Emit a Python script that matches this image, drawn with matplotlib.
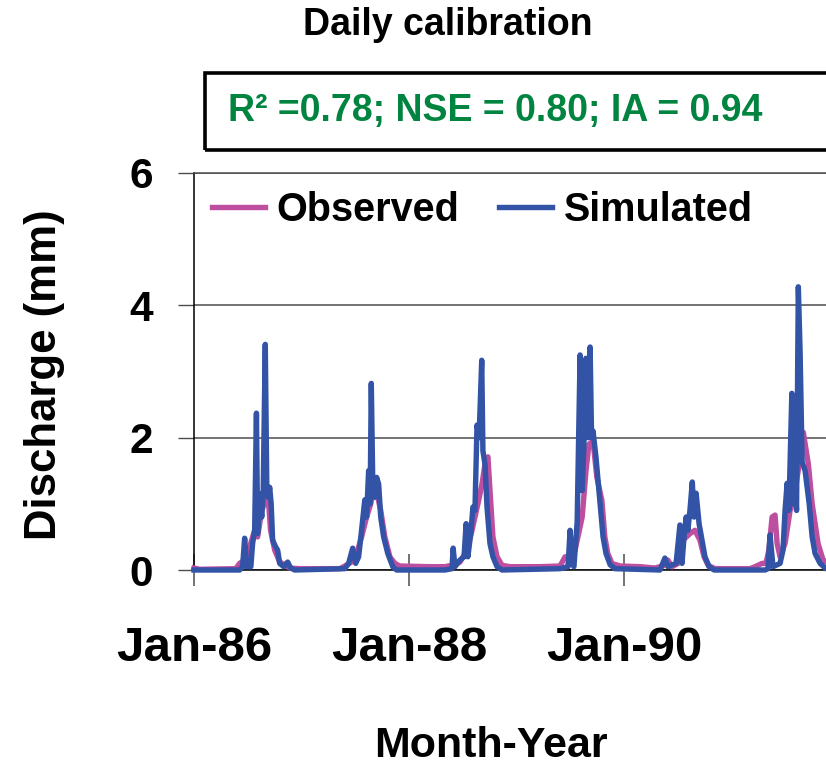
import numpy as np
import matplotlib
matplotlib.use("Agg")
import matplotlib.pyplot as plt
import matplotlib.dates as mdates
from matplotlib import font_manager
from matplotlib.patches import Rectangle

# observed daily discharge (mm)
obs_dates = ["1986-01-01", "1986-01-20", "1986-05-23", "1986-06-05", "1986-06-22", "1986-07-09",
             "1986-07-26", "1986-08-05", "1986-08-19", "1986-09-01", "1986-09-10", "1986-09-18",
             "1986-10-02", "1986-10-19", "1986-11-05", "1986-11-22", "1986-12-26",
             "1987-05-11", "1987-05-28", "1987-07-01", "1987-07-24", "1987-08-10", "1987-08-24",
             "1987-09-07", "1987-09-17", "1987-09-27", "1987-10-11", "1987-10-28", "1987-11-14",
             "1987-12-01", "1988-03-11", "1988-05-02", "1988-06-05", "1988-06-22", "1988-07-16",
             "1988-08-02", "1988-08-22", "1988-09-05", "1988-09-15", "1988-09-25", "1988-10-02",
             "1988-10-12", "1988-10-26", "1988-11-12", "1988-12-09", "1989-03-20", "1989-05-28",
             "1989-06-14", "1989-07-01", "1989-07-18", "1989-08-11", "1989-08-24", "1989-09-03",
             "1989-09-17", "1989-09-30", "1989-10-17", "1989-10-27", "1989-11-06", "1989-11-20",
             "1989-12-18", "1990-02-23", "1990-04-15", "1990-05-12", "1990-05-29", "1990-06-12",
             "1990-07-03", "1990-07-19", "1990-08-12", "1990-08-29", "1990-09-15", "1990-09-29",
             "1990-10-13", "1990-11-05", "1991-03-04", "1991-03-21", "1991-04-14", "1991-04-27",
             "1991-05-07", "1991-05-18", "1991-05-28", "1991-06-04", "1991-06-14", "1991-07-01",
             "1991-07-18", "1991-08-04", "1991-08-18", "1991-09-01", "1991-09-18", "1991-10-01",
             "1991-10-21", "1991-11-07", "1991-12-18"]
obs_vals = [0.03, 0.01, 0.02, 0.10, 0.15, 0.35,
            0.60, 0.50, 0.90, 1.05, 1.10, 0.60,
            0.30, 0.12, 0.08, 0.03, 0.02,
            0.02, 0.06, 0.15, 0.50, 0.80, 1.00,
            1.30, 1.10, 0.90, 0.50, 0.20, 0.10,
            0.06, 0.05, 0.05, 0.08, 0.12, 0.30,
            0.60, 1.00, 1.30, 1.60, 1.71, 1.20,
            0.50, 0.20, 0.07, 0.05, 0.05, 0.06,
            0.20, 0.15, 0.30, 0.80, 1.50, 1.90,
            1.95, 1.40, 1.05, 0.50, 0.25, 0.10,
            0.06, 0.05, 0.03, 0.06, 0.15, 0.05,
            0.10, 0.45, 0.55, 0.60, 0.45, 0.20,
            0.07, 0.02, 0.02, 0.05, 0.10, 0.10,
            0.30, 0.80, 0.83, 0.40, 0.20, 0.40,
            0.90, 1.20, 1.60, 2.08, 1.60, 1.00,
            0.40, 0.15, 0.05]

# simulated daily discharge (mm)
sim_dates = ["1986-01-01", "1986-06-05", "1986-06-15", "1986-06-22", "1986-06-29", "1986-07-13",
             "1986-07-19", "1986-07-26", "1986-08-01", "1986-08-05", "1986-08-12", "1986-08-19",
             "1986-08-24", "1986-08-31", "1986-09-05", "1986-09-10", "1986-09-15", "1986-09-20",
             "1986-09-25", "1986-10-05", "1986-10-12", "1986-10-19", "1986-11-02", "1986-11-15",
             "1986-11-25", "1986-12-09",
             "1987-05-28", "1987-06-10", "1987-06-24", "1987-07-04", "1987-07-14", "1987-07-24",
             "1987-08-04", "1987-08-10", "1987-08-17", "1987-08-22", "1987-08-26", "1987-08-31",
             "1987-09-07", "1987-09-13", "1987-09-20", "1987-09-27", "1987-10-07", "1987-10-21",
             "1987-11-07", "1987-11-20",
             "1988-05-02", "1988-05-26", "1988-05-30", "1988-06-05", "1988-06-22", "1988-07-06",
             "1988-07-13", "1988-07-19", "1988-07-30", "1988-08-05", "1988-08-12", "1988-08-19",
             "1988-08-26", "1988-09-04", "1988-09-08", "1988-09-15", "1988-09-22", "1988-10-02",
             "1988-10-12", "1988-10-26", "1988-11-12",
             "1989-05-28", "1989-06-24", "1989-07-01", "1989-07-08", "1989-07-14", "1989-07-25",
             "1989-08-04", "1989-08-11", "1989-08-17", "1989-08-24", "1989-08-31", "1989-09-07",
             "1989-09-12", "1989-09-17", "1989-09-27", "1989-10-11", "1989-10-21", "1989-10-31",
             "1989-11-14", "1989-12-01",
             "1990-05-02", "1990-05-19", "1990-05-29", "1990-06-26", "1990-07-09", "1990-07-16",
             "1990-07-23", "1990-07-30", "1990-08-05", "1990-08-12", "1990-08-20", "1990-08-26",
             "1990-09-02", "1990-09-12", "1990-09-22", "1990-10-02", "1990-10-16", "1990-11-02",
             "1991-04-24", "1991-05-04", "1991-05-11", "1991-05-21", "1991-06-14", "1991-06-24",
             "1991-07-01", "1991-07-08", "1991-07-14", "1991-07-24", "1991-07-28", "1991-08-04",
             "1991-08-09", "1991-08-15", "1991-08-21", "1991-08-28", "1991-09-07", "1991-09-21",
             "1991-10-01", "1991-10-11", "1991-10-28", "1991-11-17", "1991-12-18"]
sim_vals = [0.0, 0.0, 0.05, 0.48, 0.05, 0.05,
            0.40, 0.60, 2.37, 0.55, 1.15, 0.80,
            1.20, 3.41, 1.30, 1.10, 1.25, 1.00,
            0.45, 0.35, 0.30, 0.10, 0.05, 0.12,
            0.03, 0.0,
            0.02, 0.10, 0.33, 0.10, 0.20, 0.60,
            1.06, 0.80, 1.50, 1.00, 2.82, 1.30,
            1.10, 1.40, 1.30, 0.80, 0.50, 0.25,
            0.05, 0.0,
            0.0, 0.02, 0.33, 0.05, 0.15, 0.20,
            0.70, 0.20, 0.60, 0.95, 0.90, 2.19,
            2.00, 3.17, 1.80, 1.60, 0.95, 0.40,
            0.20, 0.05, 0.0,
            0.02, 0.05, 0.60, 0.10, 0.05, 0.72,
            3.25, 1.20, 1.90, 3.20, 2.00, 3.37,
            2.00, 2.10, 1.70, 1.00, 0.50, 0.25,
            0.08, 0.02,
            0.0, 0.18, 0.05, 0.10, 0.68, 0.10,
            0.50, 0.80, 0.60, 0.90, 1.33, 0.80,
            1.16, 0.70, 0.45, 0.20, 0.05, 0.0,
            0.0, 0.02, 0.53, 0.05, 0.10, 0.30,
            0.90, 1.31, 0.90, 2.67, 1.00, 1.35,
            0.90, 4.28, 3.30, 1.63, 1.50, 1.00,
            0.50, 0.25, 0.10, 0.02, 0.0]

y_ticks = [0, 2, 4, 6]
stats_text = "R\u00b2 =0.78; NSE = 0.80; IA = 0.94"


def has_font(name):
    try:
        font_manager.findfont(font_manager.FontProperties(family=name), fallback_to_default=False)
        return True
    except ValueError:
        return False


base = "Liberation Sans" if has_font("Liberation Sans") else "DejaVu Sans"
narrow = "Liberation Sans Narrow" if has_font("Liberation Sans Narrow") else None

pink = "#BE4FA0"
blue = "#3253A6"
green = "#00843F"

W, H = 826, 766
fig = plt.figure(figsize=(W / 100, H / 100), dpi=100)
ax = fig.add_axes([194 / W, (H - 570) / H, (W - 194) / W, (570 - 173) / H])

obs_t = np.array(obs_dates, dtype="datetime64[D]")
sim_t = np.array(sim_dates, dtype="datetime64[D]")
ax.plot(obs_t, obs_vals, color=pink, lw=3.9, label="Observed", clip_on=False, zorder=3)
ax.plot(sim_t, sim_vals, color=blue, lw=3.9, label="Simulated", clip_on=False, zorder=4)

ax.set_ylim(0, 6)
ax.set_yticks(y_ticks)
ax.set_xlim(np.datetime64("1986-01-01"), np.datetime64("1991-11-17"))
ax.xaxis.set_major_locator(mdates.YearLocator(2))
ax.xaxis.set_major_formatter(mdates.DateFormatter("%b-%y"))

ax.grid(axis="y", color="#4d4d4d", lw=1.1)
ax.set_axisbelow(True)
ax.spines["right"].set_visible(False)
ax.spines["top"].set_color("#4d4d4d")
ax.spines["top"].set_linewidth(1.1)
ax.spines["left"].set_linewidth(1.1)
ax.spines["bottom"].set_linewidth(1.1)

if narrow:
    xt_font = dict(family=narrow, weight="bold", size=40)
    xl_font = dict(family=narrow, weight="bold", size=38)
    st_font = dict(family=narrow, weight="bold", size=32)
else:
    xt_font = dict(family=base, weight="bold", size=35.5)
    xl_font = dict(family=base, weight="bold", size=31)
    st_font = dict(family=base, weight="bold", size=27)

ax.tick_params(axis="y", direction="out", length=11.5, width=1, color="#4d4d4d", pad=18)
ax.tick_params(axis="x", direction="inout", length=23, width=1.1, color="#4d4d4d", pad=29)
for lab in ax.get_yticklabels():
    lab.set_fontproperties(font_manager.FontProperties(family=base, weight="bold", size=30.5))
for lab in ax.get_xticklabels():
    lab.set_fontproperties(font_manager.FontProperties(**xt_font))

ax.legend(loc="upper left", bbox_to_anchor=(0.0285, 0.955), ncol=2, frameon=False,
          prop=dict(family=base, weight="bold", size=28.5), handlelength=1.35,
          handletextpad=0.28, columnspacing=1.0, borderaxespad=0, borderpad=0)

fig.text(448 / W, 1 - 25 / H, "Daily calibration", ha="center", va="center",
         family=base, weight="bold", size=27)
fig.text(45 / W, 1 - 375 / H, "Discharge (mm)", ha="center", va="center", rotation=90,
         family=base, weight="bold", size=31.5)
fig.text(491 / W, 1 - 746 / H, "Month-Year", ha="center", va="center", **xl_font)

fig.add_artist(Rectangle((205 / W, 1 - 150 / H), 700 / W, 77 / H, transform=fig.transFigure,
                         fill=False, ec="black", lw=2.6))
fig.text(228 / W, 1 - 111 / H, stats_text, ha="left", va="center", color=green, **st_font)

fig.savefig("out.png", dpi=100)
